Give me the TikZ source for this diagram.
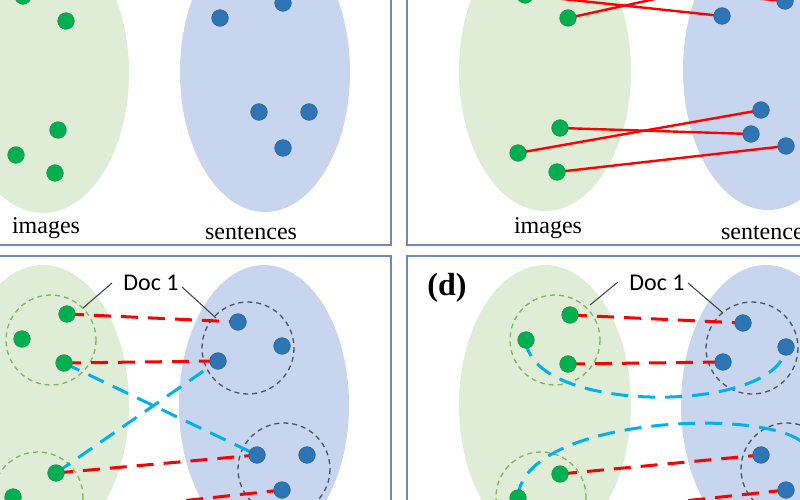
\documentclass[tikz,border=0pt]{standalone}
\usepackage{fontspec}
\setmainfont{Liberation Serif}
\newfontfamily\calibrifont{Carlito}
\definecolor{dotgreen}{RGB}{0,176,80}
\definecolor{dotgreenline}{RGB}{40,140,70}
\definecolor{dotblue}{RGB}{46,117,182}
\definecolor{dotblueline}{RGB}{40,95,150}
\definecolor{ellgreen}{RGB}{224,237,214}
\definecolor{ellblue}{RGB}{199,213,238}
\definecolor{framecol}{RGB}{112,136,192}
\definecolor{circgreen}{RGB}{130,180,95}
\definecolor{circblue}{RGB}{68,84,106}
\definecolor{cyanline}{RGB}{0,176,240}
\definecolor{leadercol}{RGB}{60,60,60}
\begin{document}
\begin{tikzpicture}[x=1pt,y=-1pt,
  gdot/.style={circle,fill=dotgreen,draw=dotgreenline,line width=0.6pt,inner sep=0pt,minimum size=16.6pt},
  bdot/.style={circle,fill=dotblue,draw=dotblueline,line width=0.6pt,inner sep=0pt,minimum size=16.6pt},
  frame/.style={draw=framecol,line width=1.5pt},
  gell/.style={fill=ellgreen},
  bell/.style={fill=ellblue},
  gcirc/.style={draw=circgreen,line width=1.3pt,dash pattern=on 5pt off 4pt},
  bcirc/.style={draw=circblue,line width=1.3pt,dash pattern=on 5pt off 4pt},
  redsolid/.style={draw=red,line width=2.4pt},
  reddash/.style={draw=red,line width=3pt,dash pattern=on 17pt off 10pt},
  cyandash/.style={draw=cyanline,line width=3pt,dash pattern=on 17pt off 10pt},
  leader/.style={draw=leadercol,line width=1pt},
  lbl/.style={font=\fontsize{24}{24}\selectfont,anchor=base,inner sep=0pt},
  doclbl/.style={font=\calibrifont\fontsize{24}{24}\selectfont,anchor=base,inner sep=0pt},
  panellbl/.style={font=\bfseries\fontsize{32}{32}\selectfont,anchor=base,inner sep=0pt}
]
\useasboundingbox (0,0) rectangle (800,500);
\clip (0,0) rectangle (800,500);

% ---------- frames ----------
\draw[frame] (-20,-100) rectangle (391,245);
\draw[frame] (407,-100) rectangle (900,245);
\draw[frame] (-20,256) rectangle (391,700);
\draw[frame] (407,256) rectangle (900,700);

% ---------- ellipses ----------
\fill[gell] (43,73) ellipse [x radius=86,y radius=140];
\fill[bell] (265,72) ellipse [x radius=85,y radius=140];
\fill[gell] (545,71) ellipse [x radius=86,y radius=140];
\fill[bell] (768,70) ellipse [x radius=85,y radius=140];
\fill[gell] (43,405) ellipse [x radius=86,y radius=140];
\fill[bell] (264,405) ellipse [x radius=85,y radius=140];
\fill[gell] (545,405) ellipse [x radius=86,y radius=140];
\fill[bell] (766,405) ellipse [x radius=85,y radius=140];

% ---------- dashed document circles ----------
\draw[gcirc] (51,340) circle [radius=45];
\draw[gcirc] (38,497) circle [radius=45];
\draw[bcirc] (248,348) circle [radius=46];
\draw[bcirc] (284,469) circle [radius=46];
\draw[gcirc] (555,340) circle [radius=45];
\draw[gcirc] (541,497) circle [radius=45];
\draw[bcirc] (752,348) circle [radius=46];
\draw[bcirc] (787,469) circle [radius=46];

% ---------- panel (a) ----------
\node[gdot] (ag1) at (23,-4) {};
\node[gdot] (ag2) at (66,21) {};
\node[gdot] (ag3) at (58,130) {};
\node[gdot] (ag4) at (16,155) {};
\node[gdot] (ag5) at (55,173) {};
\node[bdot] (ab1) at (283,3) {};
\node[bdot] (ab2) at (220,18) {};
\node[bdot] (ab3) at (259,112) {};
\node[bdot] (ab4) at (309,112) {};
\node[bdot] (ab5) at (283,148) {};
\node[lbl] (aimg) at (46,233) {images};
\node[lbl] (asen) at (251,239) {sentences};

% ---------- panel (b) ----------
\coordinate (bgx) at (560,-19);
\coordinate (bbx) at (760,-24);
\coordinate (bg1p) at (525,-5);
\coordinate (bg2p) at (568,18);
\coordinate (bg3p) at (560,128);
\coordinate (bg4p) at (518,153);
\coordinate (bg5p) at (557,172);
\coordinate (bb1p) at (785,1);
\coordinate (bb2p) at (722,16);
\coordinate (bb3p) at (761,110);
\coordinate (bb4p) at (751,134);
\coordinate (bb5p) at (786,146);
\draw[redsolid] (bg1p) -- (bb2p);
\draw[redsolid] (bg2p) -- (bbx);
\draw[redsolid] (bgx) -- (bb1p);
\draw[redsolid] (bg3p) -- (bb4p);
\draw[redsolid] (bg4p) -- (bb3p);
\draw[redsolid] (bg5p) -- (bb5p);
\node[gdot] (bg1) at (bg1p) {};
\node[gdot] (bg2) at (bg2p) {};
\node[gdot] (bg3) at (bg3p) {};
\node[gdot] (bg4) at (bg4p) {};
\node[gdot] (bg5) at (bg5p) {};
\node[bdot] (bb1) at (bb1p) {};
\node[bdot] (bb2) at (bb2p) {};
\node[bdot] (bb3) at (bb3p) {};
\node[bdot] (bb4) at (bb4p) {};
\node[bdot] (bb5) at (bb5p) {};
\node[lbl] (bimg) at (548,233) {images};
\node[lbl] (bsen) at (767,239) {sentences};

% ---------- panel (c) ----------
\coordinate (cg6) at (52,515);
\coordinate (cg1p) at (67,314);
\coordinate (cg3p) at (64,363);
\coordinate (cg4p) at (56,473);
\coordinate (cb1p) at (238,322);
\coordinate (cb3p) at (218,361);
\coordinate (cb4p) at (257,455);
\coordinate (cb6p) at (282,490);
\draw[reddash] (cg1p) -- (cb1p);
\draw[reddash] (cg3p) -- (cb3p);
\draw[reddash] (cg4p) -- (cb4p);
\draw[reddash] (cg6) -- (cb6p);
\draw[cyandash] (cg3p) -- (cb4p);
\draw[cyandash] (cg4p) -- (cb3p);
\node[gdot] (cg1) at (cg1p) {};
\node[gdot] (cg2) at (22,339) {};
\node[gdot] (cg3) at (cg3p) {};
\node[gdot] (cg4) at (cg4p) {};
\node[gdot] (cg5) at (13,497) {};
\node[bdot] (cb1) at (cb1p) {};
\node[bdot] (cb2) at (282,346) {};
\node[bdot] (cb3) at (cb3p) {};
\node[bdot] (cb4) at (cb4p) {};
\node[bdot] (cb5) at (307,455) {};
\node[bdot] (cb6) at (cb6p) {};
\node[doclbl] (cdoc) at (151,290) {Doc 1};
\coordinate (cl0) at (112,283);
\coordinate (cl1) at (83,308);
\coordinate (cr0) at (182,287);
\coordinate (cl2) at (216,318);
\draw[leader] (cl0) -- (cl1);
\draw[leader] (cr0) -- (cl2);

% ---------- panel (d) ----------
\coordinate (dg6) at (554,515);
\coordinate (db7) at (809,455);
\coordinate (dg1p) at (570,315);
\coordinate (dg2p) at (526,340);
\coordinate (dg3p) at (568,364);
\coordinate (dg4p) at (560,474);
\coordinate (dg5p) at (518,498);
\coordinate (db1p) at (743,323);
\coordinate (db2p) at (786,347);
\coordinate (db3p) at (723,362);
\coordinate (db4p) at (761,455);
\coordinate (db6p) at (786,490);
\draw[reddash] (dg1p) -- (db1p);
\draw[reddash] (dg3p) -- (db3p);
\draw[reddash] (dg4p) -- (db4p);
\draw[reddash] (dg6) -- (db6p);
\draw[cyandash] (dg2p) .. controls (530,415) and (780,415) .. (db2p);
\draw[cyandash] (dg5p) .. controls (522,410) and (812,405) .. (db7);
\node[gdot] (dg1) at (dg1p) {};
\node[gdot] (dg2) at (dg2p) {};
\node[gdot] (dg3) at (dg3p) {};
\node[gdot] (dg4) at (dg4p) {};
\node[gdot] (dg5) at (dg5p) {};
\node[bdot] (db1) at (db1p) {};
\node[bdot] (db2) at (db2p) {};
\node[bdot] (db3) at (db3p) {};
\node[bdot] (db4) at (db4p) {};
\node[bdot] (db6) at (db6p) {};
\node[panellbl] (dlbl) at (447,295) {(d)};
\node[doclbl] (ddoc) at (657,290) {Doc 1};
\coordinate (dl0) at (618,282);
\coordinate (dl1) at (590,305);
\coordinate (dr0) at (688,283);
\coordinate (dl2) at (723,313);
\draw[leader] (dl0) -- (dl1);
\draw[leader] (dr0) -- (dl2);
\end{tikzpicture}
\end{document}
